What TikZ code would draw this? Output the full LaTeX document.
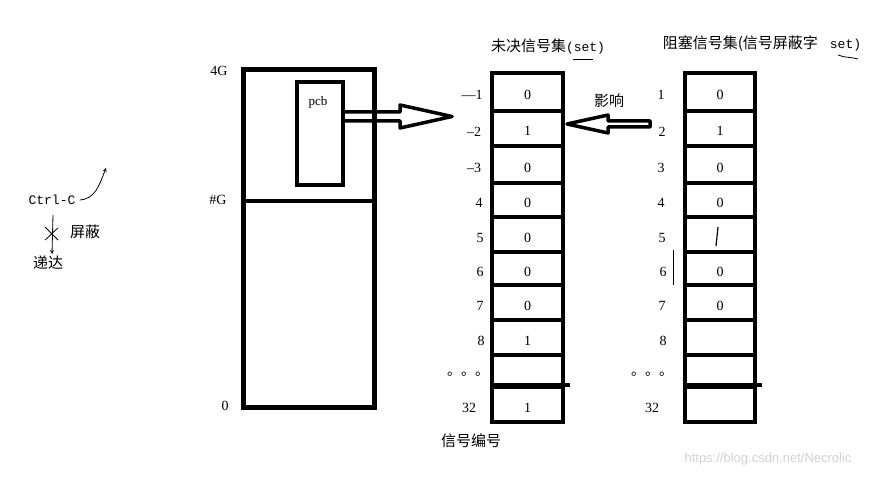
\documentclass[tikz,border=0pt]{standalone}
\usepackage{fontspec}
\setmainfont{Liberation Serif}
\setmonofont{Liberation Mono}
\newfontfamily\cjk{Noto Sans CJK SC}
\newfontfamily\wmfont{Liberation Sans}
\usetikzlibrary{calc}
\begin{document}
\begin{tikzpicture}[x=1pt,y=-1pt,every node/.style={font=\fontsize{14}{16}\selectfont,inner sep=0pt},
  cell/.style={draw,line width=4.5pt},
  zh/.style={font=\fontsize{15}{17}\selectfont\cjk},
  hollow/.style={line width=3.5pt,line join=round}]
\useasboundingbox (0,0) rectangle (874,481);
% memory of the process
\node[draw,line width=5pt,minimum width=131pt,minimum height=337pt] (mem) at (308.5,238.5) {};
\coordinate (div) at (0,201);
\draw[line width=4.5pt] (mem.west|-div) -- (mem.east|-div);
\node (top) at (219,71) {4G};
\node (mid) at (218,200) {\#G};
\node (zero) at (225,406) {0};
\node[draw,line width=4pt,minimum width=46pt,minimum height=103pt] (pcb) at (320,133.5) {};
\node[font=\fontsize{13}{15}\selectfont] (pcbtext) at (318,102) {pcb};
% pending set
\node[font=\fontsize{15}{18}\selectfont\cjk] (pendtitle) at (548,47) {未决信号集{\ttfamily\fontsize{13}{15}\selectfont(set)}};
\draw[line width=1pt] (573,60) -- (593,60);
\foreach \top/\bot/\val/\lx/\lab [count=\i] in {73/111/0/472/—1,111/146/1/474/–2,146/183/0/474/–3,
  183/217/0/479/4,217/252/0/480/5,252/285/0/480/6,285/320/0/480/7,320/355/1/481/8,
  355/387//468/{\cjk 。。。},387/422/1/469/32}{
  \node[cell,minimum width=71pt,minimum height={(\bot-\top)*1pt}] (m\i) at (527.5,{(\top+\bot)/2}) {\raisebox{-7.5pt}[0pt][0pt]{\val}};
  \node (ml\i) at (\lx,{(\top+\bot)/2+3}) {\lab};
}
\draw[line width=4.5pt] (m10.north west) -- ([xshift=5pt]m10.north east);
\node[zh] (signo) at (471,441) {信号编号};
% blocked set
\node[font=\fontsize{15}{18}\selectfont\cjk] (blocktitle) at (762,44) {阻塞信号集(信号屏蔽字\hspace{12pt}{\ttfamily\fontsize{13}{15}\selectfont set)}};
\draw[line width=0.8pt] (838,55) .. controls (845,58) and (852,57) .. (858,59);
\foreach \top/\bot/\val/\lx/\lab [count=\i] in {73/111/0/661/1,111/146/1/662/2,146/183/0/661/3,
  183/217/0/661/4,217/252//662/5,252/285/0/663/6,285/320/0/662/7,320/355//663/8,
  355/387//652/{\cjk 。。。},387/422//652/32}{
  \node[cell,minimum width=70pt,minimum height={(\bot-\top)*1pt}] (b\i) at (720,{(\top+\bot)/2}) {\raisebox{-7.5pt}[0pt][0pt]{\val}};
  \node (bl\i) at (\lx,{(\top+\bot)/2+3}) {\lab};
}
\draw[line width=4.5pt] (b10.north west) -- ([xshift=5pt]b10.north east);
\draw[line width=1.2pt] (718,227) -- (716,246);
\draw[line width=1pt] (673,250) -- (673,285);
% hollow arrows
\coordinate (pcbtip) at (452,116.5);
\draw[hollow] ($(pcb.east|-pcbtip)+(0,-4.5)$) -- ($(pcbtip)+(-52,-4.5)$) -- ($(pcbtip)+(-52,-11.5)$)
  -- (pcbtip) -- ($(pcbtip)+(-52,11.5)$) -- ($(pcbtip)+(-52,4.5)$) -- ($(pcb.east|-pcbtip)+(0,4.5)$);
\coordinate (ytip) at (567,124);
\coordinate (ytail) at (650,124);
\draw[hollow] ($(ytail)+(0,-3)$) -- ($(ytip)+(41,-3)$) -- ($(ytip)+(41,-9)$) -- (ytip)
  -- ($(ytip)+(41,9)$) -- ($(ytip)+(41,3)$) -- ($(ytail)+(0,3)$) -- cycle;
\node[zh] (affect) at (609,101) {影响};
% Ctrl-C
\node[font=\fontsize{13}{15}\selectfont\ttfamily] (ctrl) at (52,200) {Ctrl-C};
\coordinate (kick) at (106,168);
\draw[-stealth,line width=0.8pt] ([xshift=4pt]ctrl.east) .. controls (95,199) and (99,186) .. (kick);
\node[zh] (deliver) at (48,263) {递达};
\node[zh] (mask) at (85,232) {屏蔽};
\draw[-stealth,line width=0.8pt] ([yshift=-10pt,xshift=1pt]ctrl.south) -- ([xshift=4pt,yshift=2pt]deliver.north);
\draw[line width=0.8pt] (45,227) -- (58,240) (45,240) .. controls (50,236) and (54,231) .. (58,228);
\node[font=\fontsize{13}{15}\selectfont\wmfont,text=black!18] (wm) at (768,459) {https://blog.csdn.net/Necrolic};
\end{tikzpicture}
\end{document}
